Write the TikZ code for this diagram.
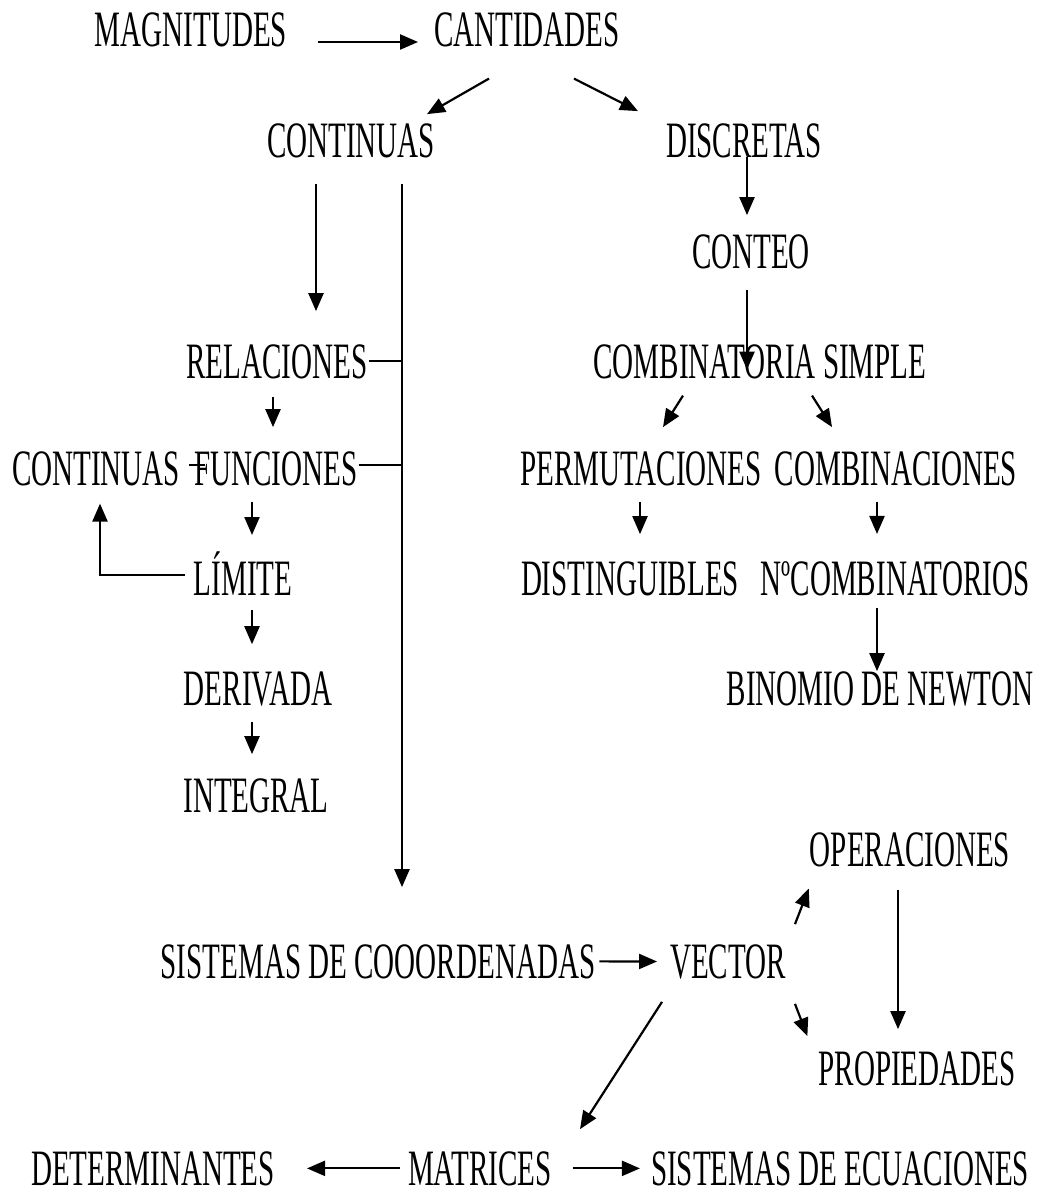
\documentclass[tikz,border=0pt]{standalone}
\usepackage{fontspec}
\newfontfamily\mapfont{Liberation Serif}[FakeStretch=0.57]
\usetikzlibrary{arrows.meta}

\begin{document}
\begin{tikzpicture}[x=1pt,y=-1pt,line width=2.2pt,
    word/.style={inner sep=0pt,anchor=base,font=\mapfont\fontsize{51}{55}\selectfont},
    arr/.style={-{Triangle[length=18pt,width=15pt]}}]
  \useasboundingbox (0,0) rectangle (1042,1198);
  % upper part
  \node[word] (mag) at (191,47) {MAGNITUDES};
  \node[word] (cant) at (527,47) {CANTIDADES};
  \node[word] (cont) at (351,158) {CONTINUAS};
  \node[word] (disc) at (744,158) {DISCRETAS};
  \node[word] (conteo) at (751,268) {CONTEO};
  \node[word] (rel) at (277,378) {RELACIONES};
  \node[word] (combs) at (760,378) {COMBINATORIA SIMPLE};
  \node[word] (contl) at (96,485) {CONTINUAS};
  \node[word] (func) at (276,485) {FUNCIONES};
  \node[word] (perm) at (641,485) {PERMUTACIONES};
  \node[word] (comb) at (896,485) {COMBINACIONES};
  \node[word] (lim) at (243,595) {LÍMITE};
  \node[word] (dist) at (630,595) {DISTINGUIBLES};
  \node[word] (ncomb) at (895,595) {NºCOMBINATORIOS};
  \node[word] (deriv) at (258,705) {DERIVADA};
  \node[word] (binom) at (880,705) {BINOMIO DE NEWTON};
  \node[word] (integ) at (256,812) {INTEGRAL};
  % lower part
  \node[word] (oper) at (910,866) {OPERACIONES};
  \node[word] (sist) at (378,978) {SISTEMAS DE COOORDENADAS};
  \node[word] (vec) at (728,978) {VECTOR};
  \node[word] (prop) at (917,1085) {PROPIEDADES};
  \node[word] (det) at (153,1185) {DETERMINANTES};
  \node[word] (mat) at (480,1185) {MATRICES};
  \node[word] (sisec) at (840,1185) {SISTEMAS DE ECUACIONES};

  \draw[arr] ([xshift=30,yshift=5]mag.base east) -- ([xshift=-15,yshift=5]cant.base west);
  \draw[arr] ([xshift=-38,yshift=-30]cant.south) -- ([xshift=76,yshift=9]cont.north);
  \draw[arr] ([xshift=47,yshift=-30]cant.south) -- ([xshift=-106,yshift=12]disc.north);
  \draw[arr] ([xshift=3,yshift=3]disc.south) -- ([xshift=-4,yshift=18]conteo.north);
  \draw[arr] ([xshift=-4,yshift=-20]conteo.south) -- ([xshift=-13,yshift=10]combs.south);
  \draw[arr] ([xshift=-77,yshift=-16]combs.south) -- ([xshift=22,yshift=23]perm.north);
  \draw[arr] ([xshift=52,yshift=-16]combs.south) -- ([xshift=-64,yshift=23]comb.north);
  \draw[arr] ([xshift=-1,yshift=-15]perm.south) -- ([xshift=10,yshift=26]dist.north);
  \draw[arr] ([xshift=-19,yshift=-15]comb.south) -- ([xshift=-18,yshift=26]ncomb.north);
  \draw[arr] ([xshift=-18,yshift=-11]ncomb.south) -- ([xshift=-3,yshift=-1]binom.north);

  % left branch
  \coordinate (trunk) at ([xshift=51,yshift=-24]cont.south);
  \draw[arr] ([xshift=-35,yshift=-24]cont.south) -- ([xshift=39,yshift=32]rel.north);
  \draw[arr] (trunk) -- ([xshift=24,yshift=56]sist.north);
  \draw (rel.east) -- (rel.east -| trunk);
  \draw ([yshift=3]func.east) -- ([yshift=3]func.east -| trunk);
  \draw ([xshift=8,yshift=3]contl.east) -- ([xshift=12,yshift=3]func.west);
  \draw[arr] ([xshift=-4,yshift=-17]rel.south) -- ([xshift=-3,yshift=23]func.north);
  \draw[arr] ([xshift=-24,yshift=-15]func.south) -- ([xshift=9,yshift=60]lim.base);
  \draw[arr] ([xshift=-8,yshift=20]lim.base west) -| ([xshift=4,yshift=-17]contl.south);
  \draw[arr] ([xshift=9,yshift=-15]lim.base) -- ([xshift=-6,yshift=26]deriv.north);
  \draw[arr] ([xshift=-6,yshift=-15]deriv.south) -- ([xshift=-4,yshift=23]integ.north);

  % vectors
  \draw[arr] ([xshift=3]sist.east) -- ([xshift=-12]vec.west);
  \draw[arr] ([xshift=8,yshift=19]vec.north east) -- ([yshift=-21]oper.south west);
  \draw[arr] ([xshift=8,yshift=-24]vec.south east) -- ([xshift=-10,yshift=14]prop.north west);
  \draw[arr] ([xshift=-12,yshift=-22]oper.south) -- ([xshift=-19,yshift=21]prop.north);
  \draw[arr] ([xshift=-66,yshift=-22]vec.south) -- ([xshift=100,yshift=21]mat.north);
  \draw[arr] ([xshift=-7]mat.west) -- ([xshift=31]det.east);
  \draw[arr] ([xshift=20]mat.east) -- ([xshift=-10]sisec.west);
\end{tikzpicture}
\end{document}
